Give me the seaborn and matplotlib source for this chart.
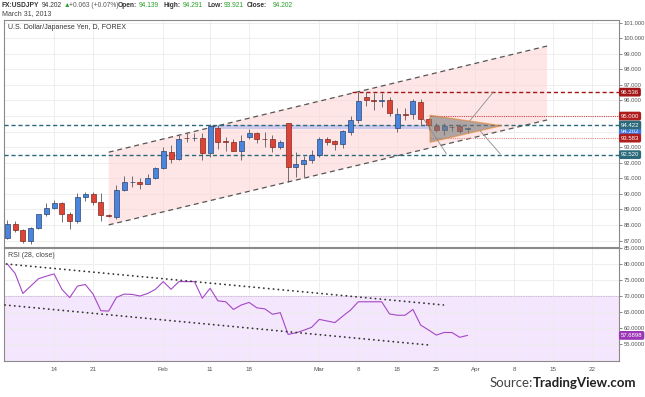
import numpy as np
import matplotlib
matplotlib.use("Agg")
import matplotlib.pyplot as plt
import matplotlib.transforms as mtransforms
from matplotlib.patches import Polygon, Rectangle
import seaborn as sns

# daily OHLC, USD/JPY (bar index 0..59)
opens = [87.15, 88.07, 87.69, 86.98, 87.79, 88.69, 89.12, 89.40, 88.71, 88.26,
         89.78, 90.00, 89.51, 88.66, 88.54, 90.23, 90.75, 90.79, 90.64, 91.00,
         91.65, 92.70, 92.27, 93.58, 93.57, 93.57, 92.65, 94.25, 93.38, 93.32,
         92.78, 93.64, 93.90, 93.52, 93.51, 93.04, 94.54, 91.71, 91.90, 92.18,
         92.50, 93.51, 93.40, 93.21, 94.00, 94.75, 96.25, 96.00, 95.99, 96.04,
         94.22, 95.12, 95.12, 95.93, 94.79, 94.36, 94.11, 94.30, 94.36, 94.139]
highs = [88.33, 88.29, 87.73, 87.90, 88.71, 89.40, 89.61, 89.51, 88.84, 90.08,
         90.15, 90.15, 90.08, 88.68, 90.58, 91.15, 91.15, 91.00, 91.28, 91.75,
         93.04, 93.15, 93.79, 93.89, 93.89, 93.89, 94.47, 94.43, 93.68, 93.51,
         93.79, 94.15, 94.00, 94.00, 93.79, 93.47, 94.58, 92.72, 92.44, 92.82,
         93.68, 93.68, 93.47, 94.11, 95.01, 96.57, 96.57, 96.46, 96.46, 96.25,
         95.50, 95.50, 96.08, 96.08, 94.90, 94.54, 94.54, 94.45, 94.50, 94.291]
lows = [87.09, 87.58, 86.83, 86.79, 87.75, 88.61, 89.06, 88.22, 87.73, 88.11,
        89.57, 89.29, 88.29, 88.50, 88.37, 90.19, 90.47, 90.30, 90.62, 90.96,
        91.58, 91.97, 92.18, 93.36, 93.40, 92.18, 92.35, 92.89, 92.78, 92.76,
        92.18, 93.55, 93.25, 93.04, 92.72, 92.89, 90.79, 91.11, 91.11, 91.97,
        92.40, 93.15, 92.82, 92.93, 93.79, 94.54, 95.65, 95.39, 95.60, 95.00,
        94.00, 94.75, 94.79, 94.43, 94.11, 93.95, 93.79, 94.05, 93.90, 93.921]
closes = [88.07, 87.69, 86.98, 87.79, 88.69, 89.12, 89.44, 88.69, 88.29, 89.78,
          90.00, 89.51, 88.65, 88.55, 90.26, 90.75, 90.76, 90.66, 91.00, 91.65,
          92.76, 92.27, 93.51, 93.57, 93.60, 92.61, 94.35, 93.36, 93.36, 92.78,
          93.40, 93.90, 93.51, 93.51, 93.04, 93.32, 91.75, 91.90, 92.18, 92.50,
          93.51, 93.36, 93.21, 94.05, 94.75, 95.97, 96.00, 95.99, 96.04, 95.18,
          95.12, 95.08, 95.99, 94.79, 94.43, 94.11, 94.36, 94.28, 94.07, 94.202]
rsi = [80.0, 77.1, 70.8, 73.1, 75.4, 76.2, 76.9, 72.1, 69.5, 73.1,
       73.6, 70.6, 65.4, 65.3, 69.6, 70.6, 70.5, 70.0, 70.8, 72.1,
       74.5, 72.1, 74.5, 74.5, 74.5, 69.3, 72.4, 68.5, 68.2, 65.8,
       67.2, 68.0, 66.3, 66.0, 64.3, 64.8, 58.0, 58.5, 59.3, 60.2,
       62.7, 62.2, 61.7, 63.7, 65.6, 68.2, 68.2, 68.2, 68.2, 64.4,
       64.0, 64.0, 65.8, 60.9, 59.4, 57.8, 58.6, 58.6, 57.1, 57.7]

tick_idx = [6, 11, 20, 26, 31, 40, 45, 50, 55, 60, 65, 70, 75]
tick_labels = ["14", "21", "Feb", "11", "18", "Mar", "8", "18", "25", "Apr", "8", "15", "22"]

# drawing tools on the chart (bar index, price)
channel_top = [(13.0, 92.68), (69.2, 99.50)]
channel_bottom = [(13.0, 88.01), (69.2, 94.75)]
triangle = [(54.2, 95.05), (54.2, 93.32), (63.3, 94.38)]
proj_lines = [[(59.3, 94.70), (62.3, 96.54)],
              [(53.4, 94.80), (56.3, 92.57)],
              [(60.6, 94.06), (63.2, 92.57)]]
band = (26.0, 54.2, 94.15, 94.43)
levels = [  # price, label, start index, style, colour
    (96.536, "96.536", 44.2, "dash", "#a31515"),
    (95.000, "95.000", 54.2, "dot", "#c94a4a"),
    (94.422, "94.422", -1.0, "dash", "#2b6a7a"),
    (93.583, "93.583", 54.2, "dot", "#e08a8a"),
    (92.520, "92.520", -1.0, "dash", "#2b6a7a"),
]
box_colours = {"96.536": "#a31515", "95.000": "#b01c1c", "94.422": "#2b6a7a",
               "93.583": "#b01c1c", "92.520": "#2b6a7a"}
rsi_upper = [(-0.1, 80.0), (55.9, 67.2)]
rsi_lower = [(-0.3, 67.2), (54.0, 54.7)]

sns.set_theme(style="white")
plt.rcParams['font.family'] = ['Liberation Sans', 'DejaVu Sans']

W, H = 645, 397
fig = plt.figure(figsize=(W / 100, H / 100), dpi=100)
fig.patch.set_facecolor("white")
ax = fig.add_axes([4 / W, 1 - 247 / H, 615 / W, 227 / H])
ax2 = fig.add_axes([4 / W, 1 - 361 / H, 615 / W, 113 / H], sharex=ax)

x = np.arange(len(closes))
o, h, l, c = map(np.array, (opens, highs, lows, closes))
up = c >= o

xmin, xmax = -0.42, 78.42
for a in (ax, ax2):
    a.set_facecolor("white")
    a.grid(True, color="#ebebeb", lw=0.6)
    a.set_axisbelow(True)
    for s in a.spines.values():
        s.set_color("#8a8a8a")
        s.set_linewidth(0.8)
    a.yaxis.tick_right()
    a.tick_params(axis="y", labelsize=4.2, colors="#555555", length=2, pad=1.5, width=0.5)
    a.tick_params(axis="x", labelsize=4.5, colors="#555555", length=2, pad=2, width=0.5)
ax.set_xlim(xmin, xmax)
ax.set_ylim(86.59, 101.17)
ax.set_yticks(range(87, 102))
ax.set_yticklabels([f"{v:.3f}" for v in range(87, 102)])
ax.set_xticks(tick_idx)
ax.tick_params(axis="x", labelbottom=False, length=0)

# channel
ct, cb = channel_top, channel_bottom
ax.add_patch(Polygon([ct[0], ct[1], cb[1], cb[0]], closed=True,
                     fc="#ffd6d6", ec="none", alpha=0.6, zorder=1))
for seg in (ct, cb):
    ax.plot([p[0] for p in seg], [p[1] for p in seg], color="#555555",
            lw=0.9, ls=(0, (4, 3)), zorder=5)

# support band
ax.add_patch(Rectangle((band[0], band[2]), band[1] - band[0], band[3] - band[2],
                       fc="#b9bdf0", ec="none", alpha=0.7, zorder=1.5))

# horizontal levels
ytrans = mtransforms.blended_transform_factory(ax.transAxes, ax.transData)
ax.text(1.003, closes[-1] - 0.2, f"{closes[-1]:.3f}", transform=ytrans, fontsize=4.3,
        color="white", va="center", ha="left", zorder=9, clip_on=False,
        bbox=dict(boxstyle="round,pad=0.2", fc="#3b78e7", ec="#3b78e7"))
for price, lab, start, style, col in levels:
    ls = (0, (3, 2)) if style == "dash" else (0, (1, 1))
    lw = 1.0 if style == "dash" else 0.8
    ax.plot([max(start, xmin), xmax], [price, price], color=col, lw=lw, ls=ls, zorder=5)
    bc = box_colours[lab]
    ax.text(1.003, price, lab, transform=ytrans, fontsize=4.3, color="white",
            va="center", ha="left", zorder=10, clip_on=False,
            bbox=dict(boxstyle="round,pad=0.2", fc=bc, ec=bc))

# candles
ax.vlines(x, l, h, color="#5a5a5a", lw=0.6, zorder=6)
body = np.maximum(np.abs(c - o), 0.04)
ax.bar(x[up], body[up], bottom=np.minimum(o, c)[up], width=0.66,
       color="#4a84dc", edgecolor="#2a4670", lw=0.5, zorder=7)
ax.bar(x[~up], body[~up], bottom=np.minimum(o, c)[~up], width=0.66,
       color="#dd4436", edgecolor="#7e2b22", lw=0.5, zorder=7)

# triangle pattern and projections
ax.add_patch(Polygon(triangle, closed=True, fc="#7a7a7a", ec="#e0832f",
                     lw=1.0, alpha=0.6, zorder=8))
for seg in proj_lines:
    ax.plot([p[0] for p in seg], [p[1] for p in seg], color="#8c8c8c", lw=0.6, zorder=8)

ax.text(0.0065, 0.968, "U.S. Dollar/Japanese Yen, D, FOREX", transform=ax.transAxes,
        fontsize=5, color="#333333", va="center", ha="left")

# RSI panel
ax2.set_ylim(49.7, 85.0)
ax2.set_yticks(range(55, 90, 5))
ax2.set_yticklabels([f"{v:.4f}" for v in range(55, 90, 5)])
ax2.axhspan(30, 70, color="#f4e6fc", zorder=0)
ax2.axhline(70, color="#c7a4dc", lw=0.6, ls=(0, (1, 1)), zorder=1)
sns.lineplot(x=x, y=rsi, ax=ax2, color="#a547c8", lw=0.8, zorder=4)
for seg in (rsi_upper, rsi_lower):
    ax2.plot([p[0] for p in seg], [p[1] for p in seg], color="#333333", lw=1.3,
             ls=(0, (0.1, 2.6)), dash_capstyle="round", zorder=5)
ax2.set_xticks(tick_idx)
ax2.set_xticklabels(tick_labels)
ax2.set_xlabel("")
ax2.set_ylabel("")
ax2.text(0.0065, 0.935, "RSI (28, close)", transform=ax2.transAxes,
         fontsize=5, color="#444444", va="center", ha="left")
ytrans2 = mtransforms.blended_transform_factory(ax2.transAxes, ax2.transData)
ax2.text(1.003, rsi[-1], "57.6898", transform=ytrans2, fontsize=4.3, color="white",
         va="center", ha="left", clip_on=False,
         bbox=dict(boxstyle="round,pad=0.2", fc="#9b36b7", ec="#9b36b7"))

# header
def px(xp, yp):
    return xp / W, 1 - yp / H

green = "#2ca02c"
hdr = [(2, "FX:USDJPY", "#333333", "bold"), (42, "94.202", "#333333", "normal"),
       (63.5, "\u25b2", green, "normal"), (69, "+0.063 (+0.07%)", "#555555", "normal"),
       (118, "Open:", "#333333", "bold"), (139, "94.139", green, "normal"),
       (163, "High:", "#333333", "bold"), (183, "94.291", green, "normal"),
       (207, "Low:", "#333333", "bold"), (224, "93.921", green, "normal"),
       (247, "Close:", "#333333", "bold"), (273, "94.202", green, "normal")]
for xp, t, col, fw in hdr:
    fig.text(*px(xp, 5.5), t, fontsize=4.8, color=col, fontweight=fw, va="center", ha="left",
             family=["Liberation Sans", "DejaVu Sans"])
fig.text(*px(2, 13.5), "March 31, 2013", fontsize=5, color="#444444", va="center", ha="left")

fig.text(*px(490, 383), "Source:", fontsize=9.5, color="#444444", va="center",
         ha="left", family="Lato")
fig.text(*px(533, 383), "TradingView.com", fontsize=9.5, color="#222222", va="center",
         ha="left", family="Lato", fontweight="bold")

fig.savefig("out.png", dpi=100)
